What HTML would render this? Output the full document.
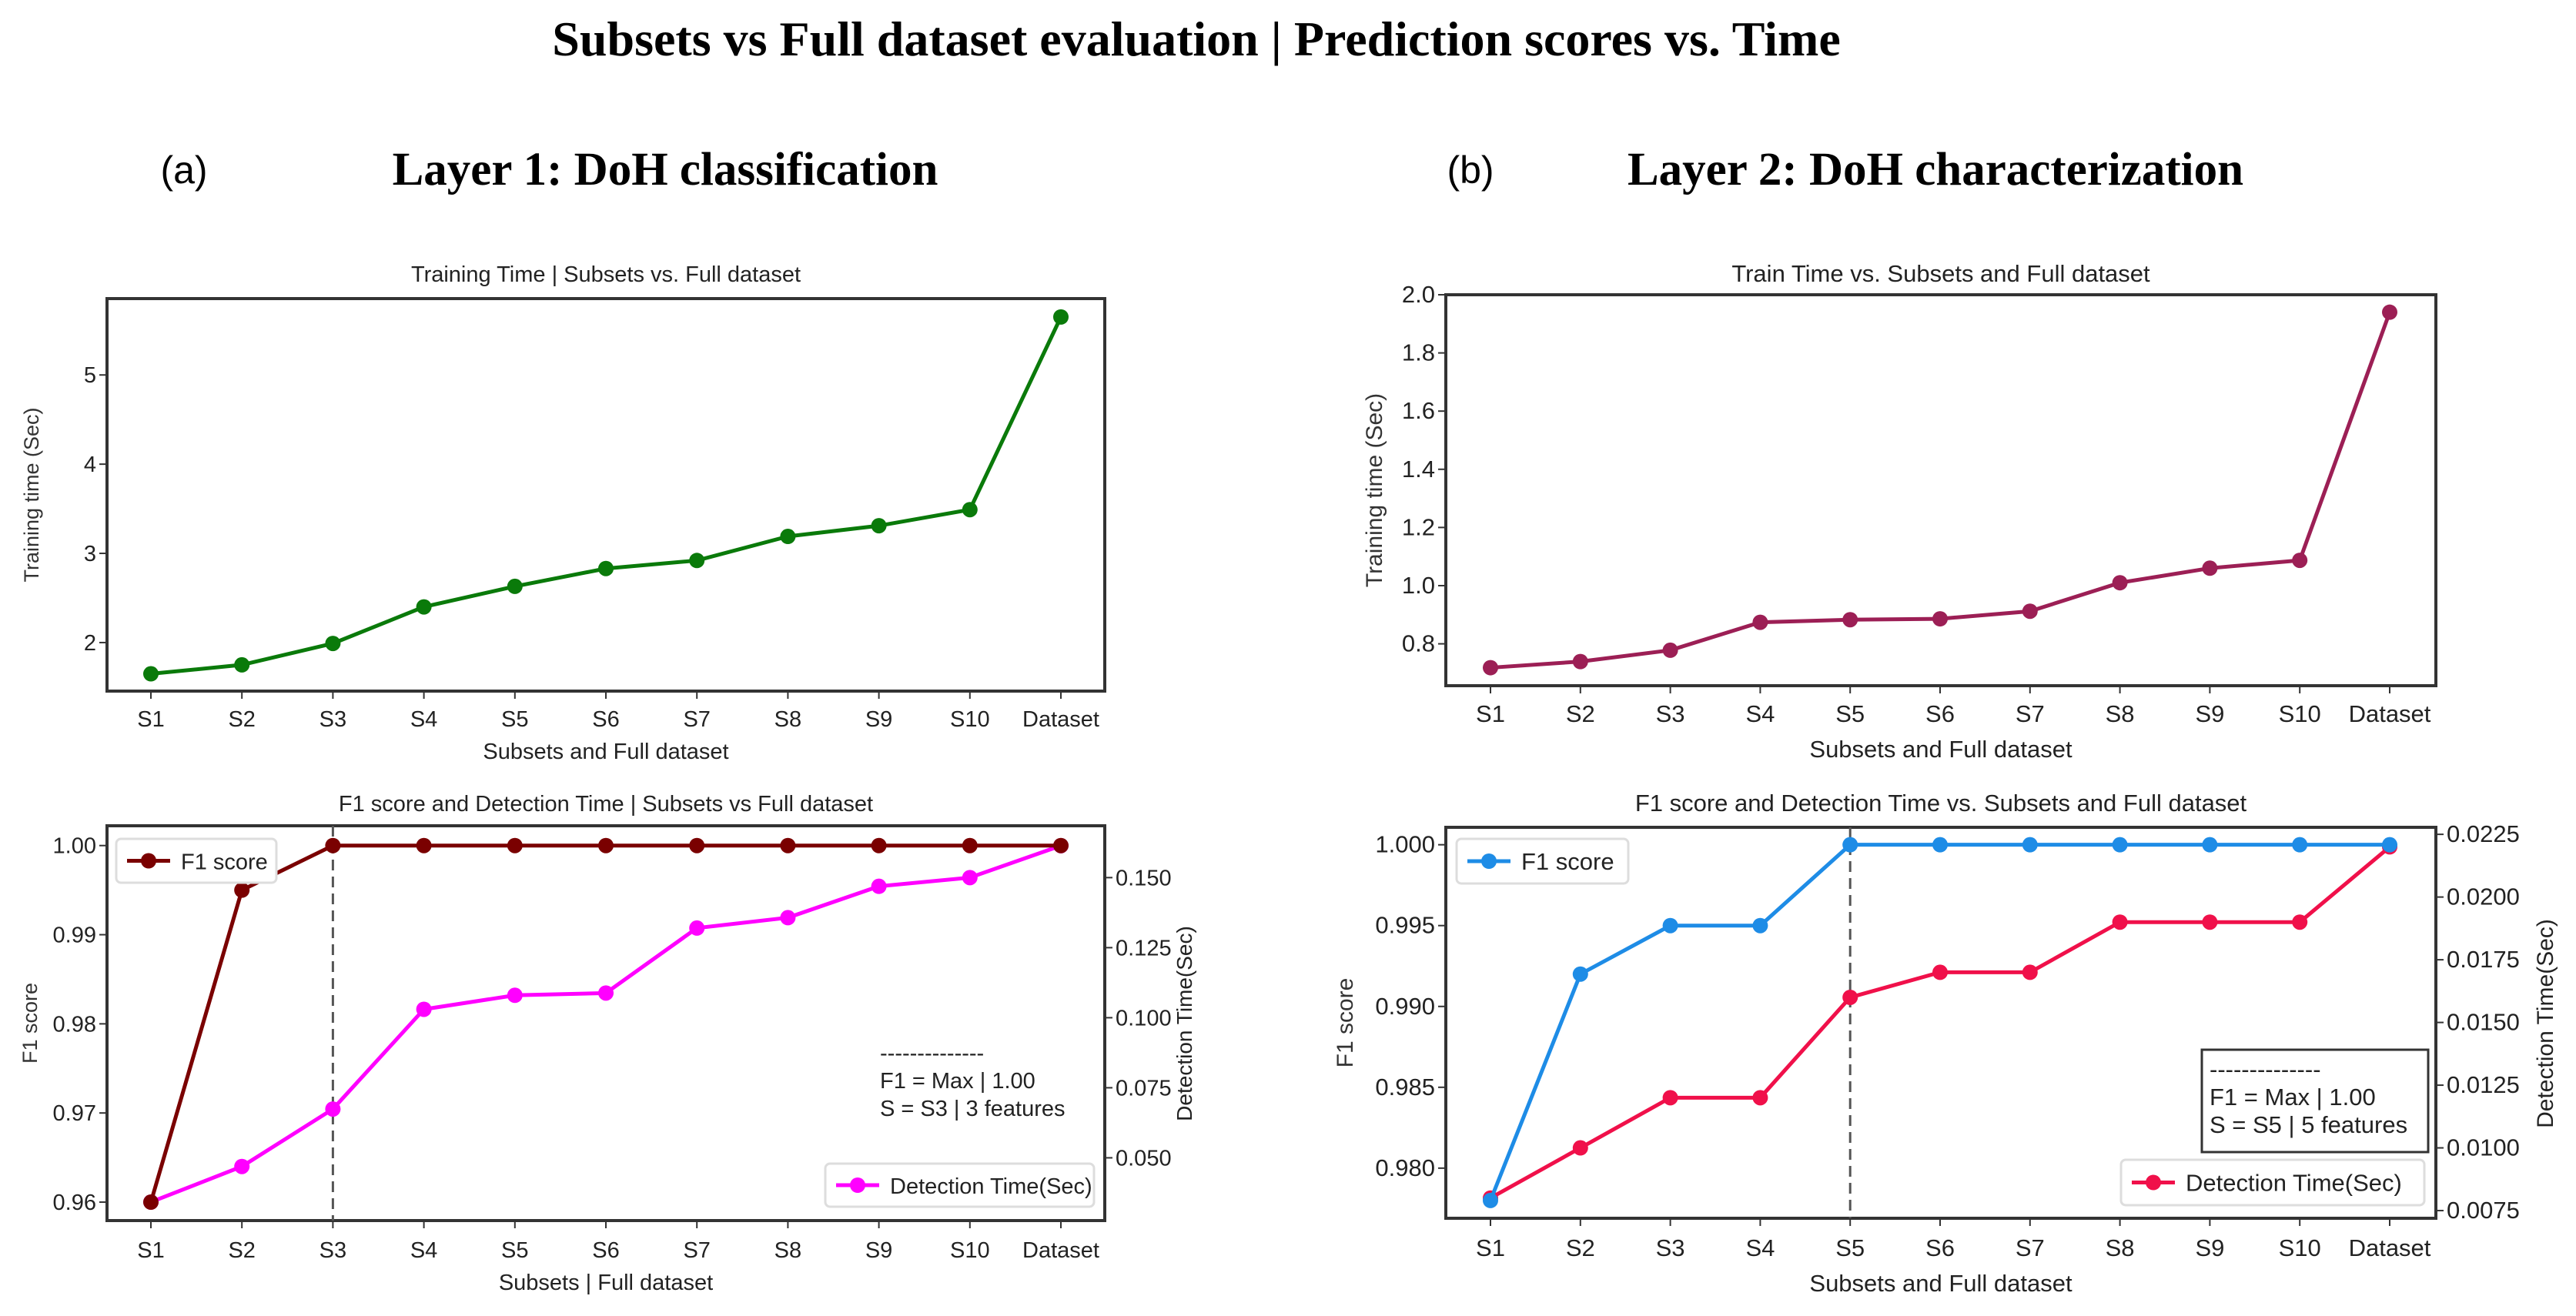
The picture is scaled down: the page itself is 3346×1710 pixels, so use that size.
<!DOCTYPE html>
<html><head><meta charset="utf-8">
<style>
html,body{margin:0;padding:0;background:#fff;}
svg{display:block;font-family:"Liberation Sans",sans-serif;}
</style></head>
<body>
<svg id="fig" width="3346" height="1710" viewBox="0 0 3346 1710" xmlns="http://www.w3.org/2000/svg">
<text x="1554" y="72" text-anchor="middle" font-family="Liberation Serif,serif" font-weight="bold" font-size="64" fill="#000">Subsets vs Full dataset evaluation | Prediction scores vs. Time</text>
<text x="239" y="238" text-anchor="middle" font-size="50" fill="#000">(a)</text>
<text x="864" y="240" text-anchor="middle" font-family="Liberation Serif,serif" font-weight="bold" font-size="61" fill="#000">Layer 1: DoH classification</text>
<text x="1910" y="238" text-anchor="middle" font-size="50" fill="#000">(b)</text>
<text x="2514" y="240" text-anchor="middle" font-family="Liberation Serif,serif" font-weight="bold" font-size="61" fill="#000">Layer 2: DoH characterization</text>
</svg>
<script>
const categories = ["S1","S2","S3","S4","S5","S6","S7","S8","S9","S10","Dataset"];
const trainTimeL1 = [1.65,1.75,1.99,2.40,2.63,2.83,2.92,3.19,3.31,3.49,5.65];
const trainTicksL1 = [2,3,4,5];
const f1L1 = [0.96,0.995,1,1,1,1,1,1,1,1,1];
const detTimeL1 = [0.0342,0.0469,0.0674,0.103,0.108,0.1088,0.132,0.1357,0.1469,0.150,0.1614];
const f1TicksL1 = [0.96,0.97,0.98,0.99,1.00];
const detTicksL1 = [0.050,0.075,0.100,0.125,0.150];
const trainTimeL2 = [0.718,0.739,0.778,0.874,0.883,0.886,0.912,1.010,1.060,1.087,1.940];
const trainTicksL2 = [0.8,1.0,1.2,1.4,1.6,1.8,2.0];
const f1L2 = [0.978,0.992,0.995,0.995,1,1,1,1,1,1,1];
const detTimeL2 = [0.008,0.010,0.012,0.012,0.016,0.017,0.017,0.019,0.019,0.019,0.022];
const f1TicksL2 = [0.980,0.985,0.990,0.995,1.000];
const detTicksL2 = [0.0075,0.0100,0.0125,0.0150,0.0175,0.0200,0.0225];

const NS="http://www.w3.org/2000/svg";
const svg=document.getElementById('fig');
function mk(tag,attrs,parent){const e=document.createElementNS(NS,tag);for(const k in attrs)e.setAttribute(k,attrs[k]);(parent||svg).appendChild(e);return e;}
function txt(s,attrs,parent){const e=mk('text',attrs,parent);e.textContent=s;return e;}

function xScale(c,i){return c.x0+i*(c.x1-c.x0)/(categories.length-1);}
function yScale(v,lo,hi,c){return c.bottom-(v-lo)/(hi-lo)*(c.bottom-c.top);}

function frame(c,name){
  const g=mk('g',{});
  
  
  const r=mk('rect',{x:c.left,y:c.top,width:c.right-c.left,height:c.bottom-c.top,fill:'none',stroke:'#333','stroke-width':4},g);
  
  
  const t=txt(c.title,{x:(c.left+c.right)/2,y:c.titleY,'text-anchor':'middle','font-size':c.fs,fill:'#222'},g);
  
  
  categories.forEach((cat,i)=>{
    const x=xScale(c,i);
    mk('line',{x1:x,x2:x,y1:c.bottom,y2:c.bottom+10,stroke:'#333','stroke-width':2},g);
    const l=txt(cat,{x:x,y:c.tickY,'text-anchor':'middle','font-size':c.fs,fill:'#222'},g);
    
    
  });
  const xl=txt(c.xlabel,{x:(c.left+c.right)/2,y:c.xlabelY,'text-anchor':'middle','font-size':c.fs,fill:'#222'},g);
  
  
  const yl=txt(c.ylabel,{x:0,y:0,'text-anchor':'middle','font-size':c.yfs,fill:'#333',transform:`translate(${c.ylabelX},${(c.top+c.bottom)/2}) rotate(-90)`},g);
  
  
  return g;
}
function leftTicks(c,ticks,lo,hi,dec,g){
  ticks.forEach(v=>{
    const y=yScale(v,lo,hi,c);
    mk('line',{x1:c.left-10,x2:c.left,y1:y,y2:y,stroke:'#333','stroke-width':2},g);
    const t=txt(v.toFixed(dec),{x:c.left-14,y:y+10,'text-anchor':'end','font-size':c.fs,fill:'#222'},g);
    
    
  });
}
function rightTicks(c,ticks,lo,hi,dec,g){
  ticks.forEach(v=>{
    const y=yScale(v,lo,hi,c);
    mk('line',{x1:c.right,x2:c.right+10,y1:y,y2:y,stroke:'#333','stroke-width':2},g);
    const t=txt(v.toFixed(dec),{x:c.right+14,y:y+10,'text-anchor':'start','font-size':c.fs,fill:'#222'},g);
    
    
  });
}
function series(c,vals,lo,hi,color,name,g){
  const pts=vals.map((v,i)=>xScale(c,i)+','+yScale(v,lo,hi,c)).join(' ');
  const p=mk('polyline',{points:pts,fill:'none',stroke:color,'stroke-width':5},g);
  
  
  vals.forEach((v,i)=>{
    const m=mk('circle',{cx:xScale(c,i),cy:yScale(v,lo,hi,c),r:10,fill:color},g);
    
    
  });
}
function vdash(c,idx,g){
  const x=xScale(c,idx);
  const l=mk('line',{x1:x,x2:x,y1:c.top,y2:c.bottom,stroke:'#555','stroke-width':3,'stroke-dasharray':'14,8'},g);
  
  
}
function legend(x,y,w,h,color,label,fs,g){
  const lg=mk('g',{},g);
  
  
  mk('rect',{x:x,y:y,width:w,height:h,rx:6,fill:'#fff',stroke:'#ddd','stroke-width':3},lg);
  mk('line',{x1:x+14,x2:x+70,y1:y+h/2,y2:y+h/2,stroke:color,'stroke-width':5},lg);
  mk('circle',{cx:x+42,cy:y+h/2,r:10,fill:color},lg);
  txt(label,{x:x+84,y:y+h/2+11,'font-size':fs,fill:'#222'},lg);
}
function note(x,y,lines,fs,g){
  const n=mk('g',{},g);
  
  
  lines.forEach((s,i)=>txt(s,{x:x,y:y+i*36,'font-size':fs,fill:'#222'},n));
}

const cA1={left:139,right:1435,top:388,bottom:898,x0:196,x1:1378,fs:29,yfs:27,title:'Training Time | Subsets vs. Full dataset',titleY:366,tickY:944,xlabel:'Subsets and Full dataset',xlabelY:986,ylabel:'Training time (Sec)',ylabelX:50};
const gA1=frame(cA1,'training-time-chart-layer1');
leftTicks(cA1,trainTicksL1,1.456,5.856,0,gA1);
series(cA1,trainTimeL1,1.456,5.856,'#0a7a0a','training-time',gA1);

const cA2={left:139,right:1435,top:1073,bottom:1586,x0:196,x1:1378,fs:29,yfs:27,title:'F1 score and Detection Time | Subsets vs Full dataset',titleY:1054,tickY:1634,xlabel:'Subsets | Full dataset',xlabelY:1676,ylabel:'F1 score',ylabelX:48};
const gA2=frame(cA2,'f1-detection-chart-layer1');
leftTicks(cA2,f1TicksL1,0.95793,1.00222,2,gA2);
rightTicks(cA2,detTicksL1,0.0276,0.1685,3,gA2);
txt('Detection Time(Sec)',{x:0,y:0,'text-anchor':'middle','font-size':28,fill:'#222',transform:`translate(1548,1330) rotate(-90)`},gA2);
vdash(cA2,2,gA2);
series(cA2,detTimeL1,0.0276,0.1685,'#ff00ff','detection-time',gA2);
series(cA2,f1L1,0.95793,1.00222,'#7a0000','f1-score',gA2);
legend(151,1090,208,57,'#7a0000','F1 score',29,gA2);
legend(1072,1512,349,56,'#ff00ff','Detection Time(Sec)',29,gA2);
note(1143,1378,['--------------','F1 = Max | 1.00','S = S3 | 3 features'],29,gA2);

const cB1={left:1878,right:3164,top:383,bottom:891,x0:1936,x1:3104,fs:31,yfs:30,title:'Train Time vs. Subsets and Full dataset',titleY:366,tickY:938,xlabel:'Subsets and Full dataset',xlabelY:984,ylabel:'Training time (Sec)',ylabelX:1795};
const gB1=frame(cB1,'training-time-chart-layer2');
leftTicks(cB1,trainTicksL2,0.656,2.0,1,gB1);
series(cB1,trainTimeL2,0.656,2.0,'#9c1f55','training-time',gB1);

const cB2={left:1878,right:3164,top:1075,bottom:1583,x0:1936,x1:3104,fs:31,yfs:30,title:'F1 score and Detection Time vs. Subsets and Full dataset',titleY:1054,tickY:1632,xlabel:'Subsets and Full dataset',xlabelY:1678,ylabel:'F1 score',ylabelX:1757};
const gB2=frame(cB2,'f1-detection-chart-layer2');
leftTicks(cB2,f1TicksL2,0.9769,1.001078,3,gB2);
rightTicks(cB2,detTicksL2,0.007194,0.02278,4,gB2);
txt('Detection Time(Sec)',{x:0,y:0,'text-anchor':'middle','font-size':30,fill:'#222',transform:`translate(3316,1330) rotate(-90)`},gB2);
vdash(cB2,4,gB2);
series(cB2,detTimeL2,0.007194,0.02278,'#f0104a','detection-time',gB2);
series(cB2,f1L2,0.9769,1.001078,'#1e8ce6','f1-score',gB2);
legend(1892,1090,223,58,'#1e8ce6','F1 score',31,gB2);
legend(2755,1507,394,59,'#f0104a','Detection Time(Sec)',31,gB2);
const nb=mk('rect',{x:2860,y:1364,width:294,height:133,fill:'#fff',stroke:'#333','stroke-width':3},gB2);


note(2870,1400,['--------------','F1 = Max | 1.00','S = S5 | 5 features'],31,gB2);
</script>
</body></html>
